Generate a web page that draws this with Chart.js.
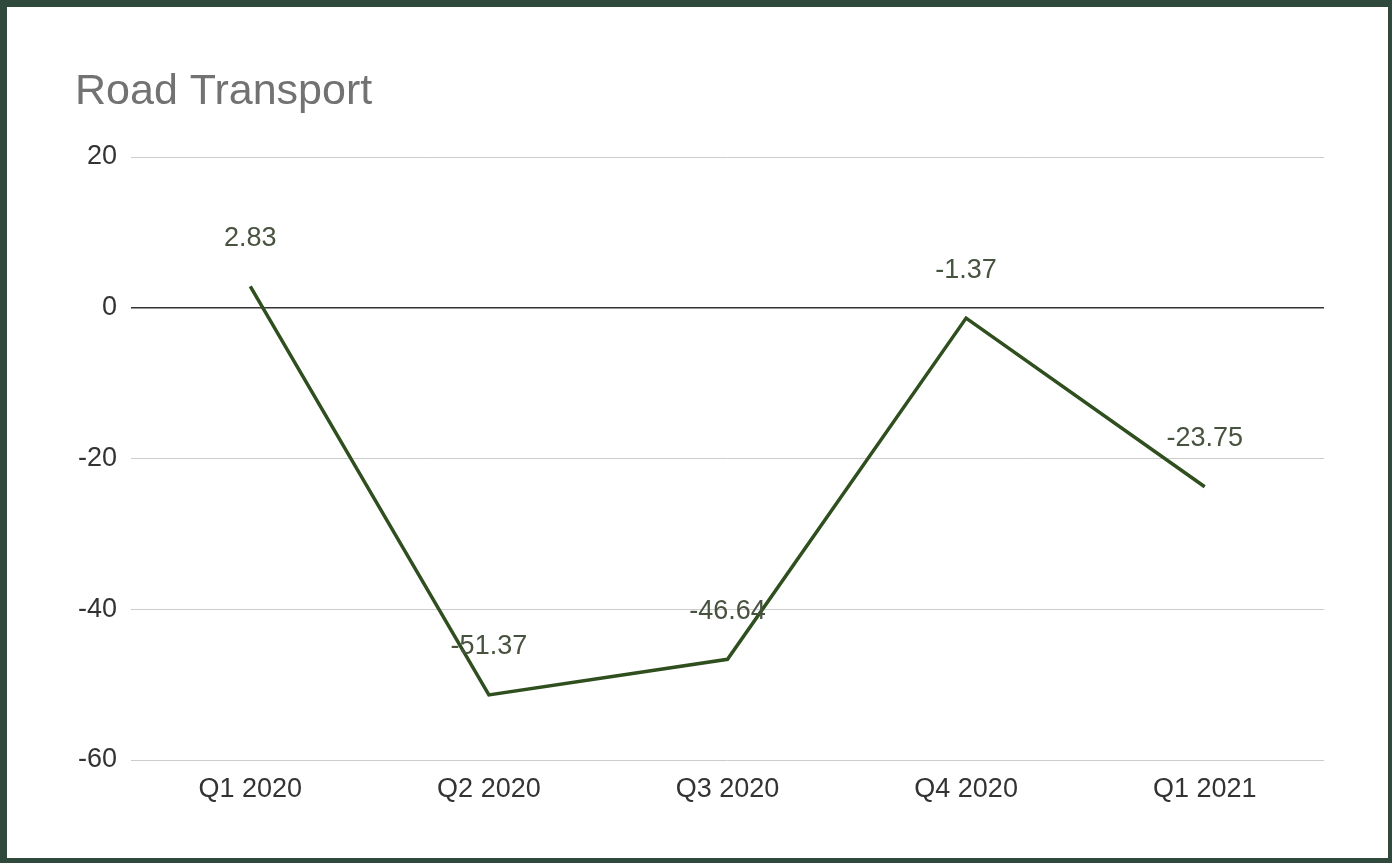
<!DOCTYPE html>
<html>
<head>
<meta charset="utf-8">
<script src="https://cdn.jsdelivr.net/npm/chart.js@4/dist/chart.umd.min.js"></script>
<style>
  html, body { margin: 0; padding: 0; background: #ffffff; }
  #wrap { position: relative; width: 1392px; height: 863px; }
  canvas { display: block; }
</style>
</head>
<body>
<div id="wrap"><canvas id="c" width="1392" height="863"></canvas></div>
<script>
const chartTitle = 'Road Transport';
const categories = ['Q1 2020', 'Q2 2020', 'Q3 2020', 'Q4 2020', 'Q1 2021'];
const roadTransport = [2.83, -51.37, -46.64, -1.37, -23.75];
const yTicks = [20, 0, -20, -40, -60];

const frameAndTitle = {
  id: 'frameAndTitle',
  beforeDraw(chart) {
    const ctx = chart.ctx;
    ctx.save();
    ctx.fillStyle = '#ffffff';
    ctx.fillRect(0, 0, chart.width, chart.height);
    ctx.restore();
  },
  afterDraw(chart) {
    const ctx = chart.ctx;
    ctx.save();
    // frame
    ctx.fillStyle = '#2f4a3c';
    ctx.fillRect(0, 0, chart.width, 7);
    ctx.fillRect(0, chart.height - 5, chart.width, 5);
    ctx.fillRect(0, 0, 7, chart.height);
    ctx.fillRect(chart.width - 4, 0, 4, chart.height);
    // title
    ctx.fillStyle = '#727272';
    ctx.font = '43px "Liberation Sans", Arial, sans-serif';
    ctx.textAlign = 'left';
    ctx.textBaseline = 'alphabetic';
    ctx.fillText(chartTitle, 75, 104);
    ctx.restore();
  }
};

const dataLabels = {
  id: 'dataLabels',
  afterDatasetsDraw(chart) {
    const ctx = chart.ctx;
    const meta = chart.getDatasetMeta(0);
    ctx.save();
    ctx.fillStyle = '#47523f';
    ctx.font = '27px "Liberation Sans", Arial, sans-serif';
    ctx.textAlign = 'center';
    ctx.textBaseline = 'middle';
    meta.data.forEach((pt, i) => {
      ctx.fillText(String(roadTransport[i]), pt.x, pt.y - 48);
    });
    ctx.restore();
  }
};

new Chart(document.getElementById('c'), {
  type: 'line',
  data: {
    labels: categories,
    datasets: [{
      label: chartTitle,
      data: roadTransport,
      borderColor: '#2f4f1f',
      borderWidth: 3.5,
      pointRadius: 0,
      pointHoverRadius: 0,
      tension: 0,
      fill: false
    }]
  },
  options: {
    responsive: false,
    animation: false,
    devicePixelRatio: 1,
    layout: { padding: { left: 20, right: 68, top: 157, bottom: 0 } },
    plugins: {
      legend: { display: false },
      title: { display: false },
      tooltip: { enabled: false }
    },
    scales: {
      x: {
        offset: true,
        grid: { display: false, drawTicks: false },
        border: { display: false },
        ticks: {
          color: '#333333',
          padding: 13,
          font: { family: '"Liberation Sans", Arial, sans-serif', size: 27 },
          maxRotation: 0
        },
        afterFit(scale) { scale.height = 103; }
      },
      y: {
        min: -60,
        max: 20,
        afterBuildTicks(scale) { scale.ticks = yTicks.map(v => ({ value: v })); },
        grid: {
          drawTicks: false,
          color: ctx => (ctx.tick && ctx.tick.value === 0) ? '#333333' : '#cccccc',
          lineWidth: ctx => (ctx.tick && ctx.tick.value === 0) ? 1.5 : 1
        },
        border: { display: false },
        ticks: {
          color: '#333333',
          padding: 14,
          font: { family: '"Liberation Sans", Arial, sans-serif', size: 27 }
        },
        afterFit(scale) { scale.width = 111; }
      }
    }
  },
  plugins: [frameAndTitle, dataLabels]
});
</script>
</body>
</html>
